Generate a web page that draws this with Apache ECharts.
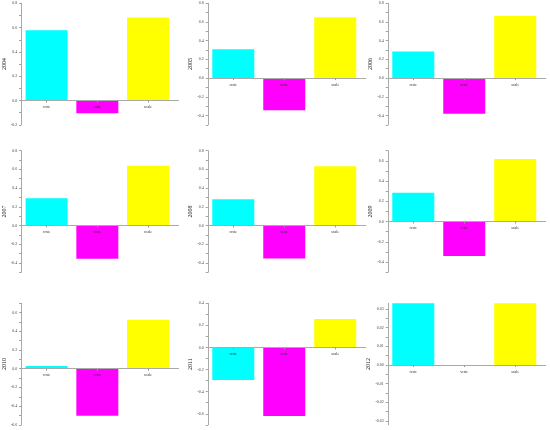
<!DOCTYPE html>
<html>
<head>
<meta charset="utf-8">
<script src="https://cdn.jsdelivr.net/npm/echarts@6/dist/echarts.min.js"></script>
<style>
  html, body { margin: 0; padding: 0; background: #fff; }
  #chart { width: 550px; height: 430px; }
</style>
</head>
<body>
<div id="chart"></div>
<script>
// one small bar chart per year
const years = ['2004', '2005', '2006', '2007', '2008', '2009', '2010', '2011', '2012'];
const categories = ['crste', 'vrste', 'scale'];
const crste = [0.579, 0.309, 0.283, 0.292, 0.28, 0.284, 0.03, -0.295, 0.033];
const vrste = [-0.105, -0.343, -0.382, -0.355, -0.354, -0.339, -0.503, -0.62, 0];
const scale = [0.684, 0.651, 0.665, 0.64, 0.633, 0.619, 0.524, 0.257, 0.033];
const yMin = [-0.2, -0.5, -0.5, -0.5, -0.5, -0.5, -0.6, -0.7, -0.032];
const yMax = [0.8, 0.8, 0.8, 0.8, 0.8, 0.7, 0.7, 0.4, 0.033];
const yTickLabels = [
  [-0.2, 0, 0.2, 0.4, 0.6, 0.8],
  [-0.4, -0.2, 0, 0.2, 0.4, 0.6, 0.8],
  [-0.4, -0.2, 0, 0.2, 0.4, 0.6, 0.8],
  [-0.4, -0.2, 0, 0.2, 0.4, 0.6, 0.8],
  [-0.4, -0.2, 0, 0.2, 0.4, 0.6, 0.8],
  [-0.4, -0.2, 0, 0.2, 0.4, 0.6],
  [-0.6, -0.4, -0.2, 0, 0.2, 0.4, 0.6],
  [-0.6, -0.4, -0.2, 0, 0.2, 0.4],
  [-0.03, -0.02, -0.01, 0, 0.01, 0.02, 0.03]
];
const barColors = ['#00ffff', '#ff00ff', '#ffff00'];

const chart = echarts.init(document.getElementById('chart'));

const colLeft = [20.5, 207.8, 387.8];
const rowTop = [3.3, 150.7, 303.3];
const gridH = 121.5;
const font = 'Liberation Serif';

let grid = [], xAxis = [], yAxis = [], series = [];

years.forEach((year, i) => {
  const col = i % 3, row = Math.floor(i / 3);
  grid.push({ left: colLeft[col], top: rowTop[row], width: 158, height: gridH });

  const labels = yTickLabels[i];
  const step = labels[1] - labels[0];
  // ticks at labels plus one minor tick half way
  let ticks = [];
  labels.forEach(v => { ticks.push(v); ticks.push(v + step / 2); });
  ticks.push(labels[0] - step / 2);
  ticks = ticks.filter(v => v >= yMin[i] - 1e-9 && v <= yMax[i] + 1e-9);
  const dec = i === 8 ? 2 : 1;

  // x axis sits on the zero line
  const zeroOffset = -yMin[i] / (yMax[i] - yMin[i]) * gridH;

  xAxis.push({
    gridIndex: i,
    type: 'value',
    min: 0.5,
    max: 3.6,
    z: 10,
    offset: -zeroOffset,
    splitLine: { show: false },
    axisLine: { onZero: false, lineStyle: { color: '#aaaaaa', width: 1 } },
    axisTick: { customValues: [1, 2, 3], length: 2, lineStyle: { color: '#999' } },
    axisLabel: {
      customValues: [1, 2, 3],
      margin: 4.5,
      fontSize: 4,
      fontFamily: font,
      color: '#333',
      formatter: v => categories[Math.round(v) - 1] || ''
    }
  });

  yAxis.push({
    gridIndex: i,
    type: 'value',
    min: yMin[i],
    max: yMax[i],
    name: year,
    nameLocation: 'middle',
    nameGap: 14,
    nameRotate: 90,
    nameTextStyle: { fontSize: 6, fontFamily: font, color: '#222' },
    splitLine: { show: false },
    axisLine: { show: true, onZero: false, lineStyle: { color: '#aaaaaa', width: 1 } },
    axisTick: { show: true, customValues: ticks, length: 2, lineStyle: { color: '#999' } },
    axisLabel: {
      customValues: labels,
      margin: 4,
      fontSize: 4,
      fontFamily: font,
      color: '#444',
      formatter: v => Number(v).toFixed(dec)
    }
  });

  const vals = [crste[i], vrste[i], scale[i]];
  series.push({
    type: 'bar',
    xAxisIndex: i,
    yAxisIndex: i,
    barWidth: 42,
    data: vals.map((v, k) => ({ value: [k + 1, v], itemStyle: { color: barColors[k] } }))
  });
});

chart.setOption({
  animation: false,
  backgroundColor: '#fff',
  grid: grid,
  xAxis: xAxis,
  yAxis: yAxis,
  series: series
});
</script>
</body>
</html>
